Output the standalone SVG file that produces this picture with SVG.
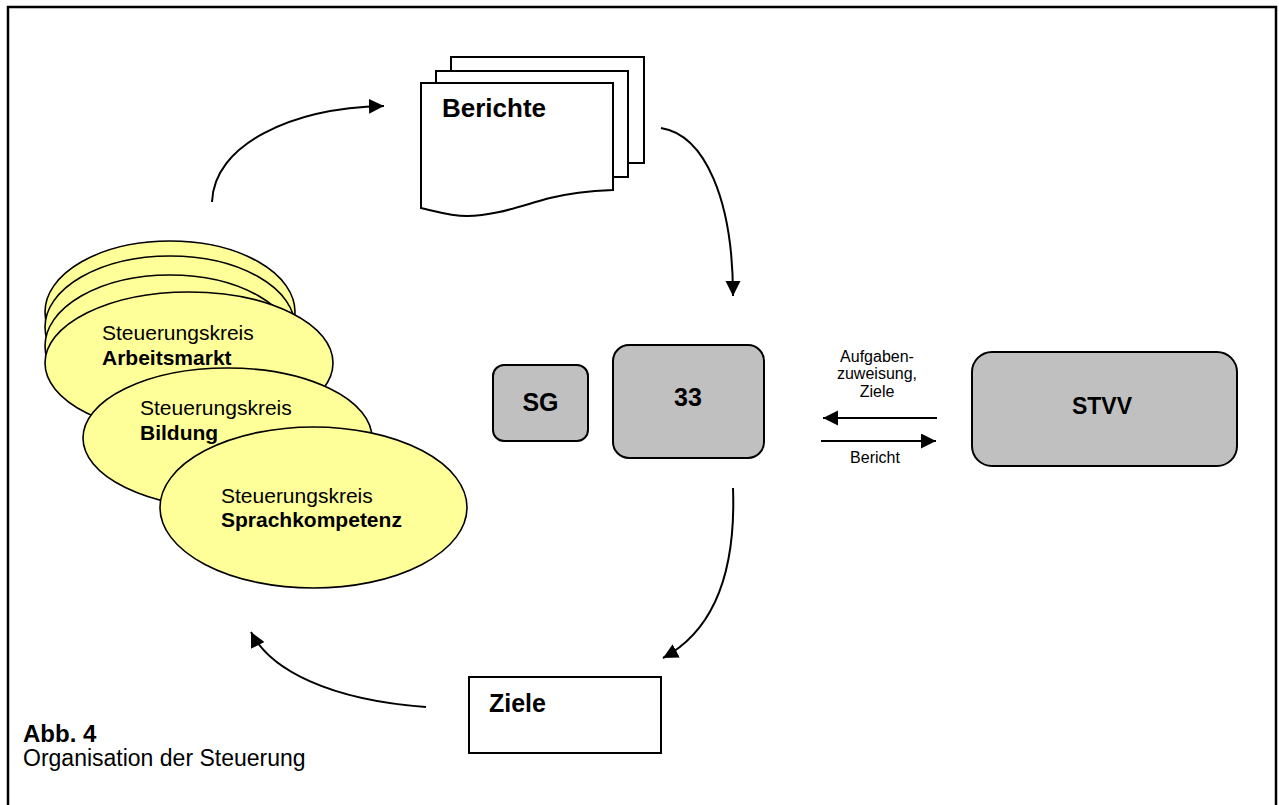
<svg xmlns="http://www.w3.org/2000/svg" width="1279" height="805" viewBox="0 0 1279 805">
<style>
text{font-family:"Liberation Sans",Arial,sans-serif;fill:#000}
.b{font-weight:bold}
.ell{fill:#FFFF99;stroke:#000;stroke-width:1.6}
.box{fill:#C0C0C0;stroke:#000;stroke-width:2}
.doc{fill:#fff;stroke:#000;stroke-width:2}
.con{fill:none;stroke:#000;stroke-width:2;marker-end:url(#ah)}
</style>
<defs>
<marker id="ah" markerUnits="userSpaceOnUse" markerWidth="16" markerHeight="16" refX="15" refY="7.5" orient="auto" viewBox="0 0 16 16">
<path d="M0,0 L15,7.5 L0,15 Z" fill="#000"/>
</marker>
</defs>
<rect x="8" y="7" width="1268" height="815" fill="#fff" stroke="#000" stroke-width="2.5"/>

<g id="berichte">
<rect class="doc" x="451" y="57" width="193" height="106"/>
<rect class="doc" x="436" y="71" width="192" height="106"/>
<path class="doc" d="M421,83 H613 V190 C590,191 570,193 550,198 C520,206 495,216 467,216 C450,216 435,211 421,208 Z"/>
<text class="b" x="442" y="117" font-size="26">Berichte</text>
</g>

<g id="steuerungskreise">
<ellipse class="ell" cx="170" cy="312" rx="125" ry="71"/>
<ellipse class="ell" cx="170" cy="327" rx="125" ry="71"/>
<ellipse class="ell" cx="170" cy="346" rx="125" ry="71"/>
</g>
<g id="sk-arbeitsmarkt">
<ellipse class="ell" cx="189" cy="363" rx="144" ry="71"/>
<text x="102" y="340" font-size="21">Steuerungskreis</text>
<text class="b" x="102" y="365" font-size="21">Arbeitsmarkt</text>
</g>
<g id="sk-bildung">
<ellipse class="ell" cx="227.5" cy="438" rx="144.5" ry="70"/>
<text x="140" y="415" font-size="21">Steuerungskreis</text>
<text class="b" x="140" y="440" font-size="21">Bildung</text>
</g>
<g id="sk-sprachkompetenz">
<ellipse class="ell" cx="313.5" cy="507.5" rx="153.5" ry="80.5"/>
<text x="221" y="503" font-size="21">Steuerungskreis</text>
<text class="b" x="221" y="527" font-size="21">Sprachkompetenz</text>
</g>

<g id="sg">
<rect class="box" x="493" y="365" width="95" height="76" rx="11"/>
<text class="b" x="540.5" y="411" font-size="25" text-anchor="middle">SG</text>
</g>
<g id="n33">
<rect class="box" x="613" y="345" width="151" height="113" rx="16"/>
<text class="b" x="688" y="406" font-size="25" text-anchor="middle">33</text>
</g>
<g id="stvv">
<rect class="box" x="972" y="352" width="265" height="114" rx="20"/>
<text class="b" x="1102" y="414" font-size="23" text-anchor="middle">STVV</text>
</g>
<g id="ziele">
<rect x="469" y="677" width="192" height="76" fill="#fff" stroke="#000" stroke-width="2"/>
<text class="b" x="489" y="712" font-size="25">Ziele</text>
</g>

<g id="connectors">
<path class="con" d="M212,202 C214,145 290,108 384,106"/>
<path class="con" d="M661,128 C705,135 733,200 733,296"/>
<path class="con" d="M733,488 C736,570 715,630 663,658"/>
<path class="con" d="M426,707 C330,700 270,670 251,632"/>
<path class="con" d="M937,418 L823,418"/>
<path class="con" d="M821,441 L936,441"/>
<g font-size="16" text-anchor="middle">
<text x="877" y="362">Aufgaben-</text>
<text x="877" y="379">zuweisung,</text>
<text x="877" y="397">Ziele</text>
<text x="875" y="463">Bericht</text>
</g>
</g>

<g id="caption">
<text class="b" x="23" y="742" font-size="24">Abb. 4</text>
<text x="23" y="766" font-size="23">Organisation der Steuerung</text>
</g>
</svg>
